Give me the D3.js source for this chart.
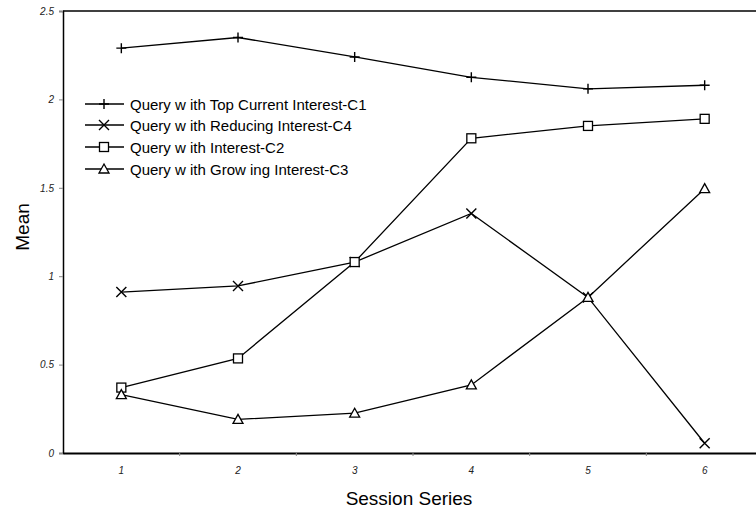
<!DOCTYPE html>
<html><head><meta charset="utf-8">
<script src="https://cdn.jsdelivr.net/npm/d3@7"></script>
<style>body{margin:0;background:#fff}svg{display:block}</style>
</head><body>
<svg id="c" width="756" height="509"></svg>
<script>
const categories = ["1","2","3","4","5","6"];
const yTicks = [0, 0.5, 1, 1.5, 2, 2.5];
const seriesNames = [
  "Query w ith Top Current Interest-C1",
  "Query w ith Reducing Interest-C4",
  "Query w ith Interest-C2",
  "Query w ith Grow ing Interest-C3"
];
const seriesMarkers = ["plus","cross","square","triangle"];
const c1 = [2.29, 2.35, 2.24, 2.125, 2.06, 2.08];
const c4 = [0.91, 0.945, 1.08, 1.355, 0.88, 0.055];
const c2 = [0.37, 0.535, 1.08, 1.78, 1.85, 1.89];
const c3 = [0.33, 0.19, 0.225, 0.385, 0.88, 1.495];
const seriesValues = [c1, c4, c2, c3];

const svg = d3.select("#c");
const L = 63, R = 763, T = 11, B = 453;
const x = d3.scaleBand().domain(categories).range([L, R]);
const y = d3.scaleLinear().domain([0, 2.5]).range([B, T]);
const font = "'Liberation Sans', Arial, sans-serif";

// top border
svg.append("line").attr("x1", L).attr("x2", 756).attr("y1", T).attr("y2", T)
  .attr("stroke", "#000").attr("stroke-width", 1.5);

// y axis
const ya = svg.append("g").attr("transform", `translate(${L},0)`)
  .call(d3.axisLeft(y).tickValues(yTicks).tickSize(4).tickFormat(d3.format("")));
ya.select(".domain").attr("stroke", "#000").attr("stroke-width", 1.5);
ya.selectAll(".tick line").attr("stroke", "#888");
ya.selectAll(".tick text").attr("font-family", font).attr("font-size", 10)
  .attr("font-style", "italic").attr("fill", "#222").attr("x", -9);

// x axis
const xa = svg.append("g").attr("transform", `translate(0,${B})`)
  .call(d3.axisBottom(x).tickSize(0));
xa.select(".domain").attr("stroke", "#000").attr("stroke-width", 2.2);
xa.selectAll(".tick text").attr("font-family", font).attr("font-size", 10)
  .attr("font-style", "italic").attr("fill", "#222").attr("dy", "0").attr("y", 21);
// boundary ticks between categories
svg.append("g").selectAll("line").data(categories.slice(1)).join("line")
  .attr("x1", d => x(d)).attr("x2", d => x(d)).attr("y1", B).attr("y2", B + 3)
  .attr("stroke", "#888");

// axis titles
svg.append("text").attr("transform", "translate(29,227) rotate(-90)")
  .attr("text-anchor", "middle").attr("font-family", font).attr("font-size", 19).text("Mean");
svg.append("text").attr("x", 409).attr("y", 505).attr("text-anchor", "middle")
  .attr("font-family", font).attr("font-size", 19).text("Session Series");

function marker(g, type, cx, cy) {
  const s = 5;
  if (type === "plus") {
    g.append("path").attr("d", `M${cx-s},${cy}H${cx+s}M${cx},${cy-s}V${cy+s}`)
      .attr("stroke", "#000").attr("stroke-width", 1.4).attr("fill", "none");
  } else if (type === "cross") {
    g.append("path").attr("d", `M${cx-s},${cy-s}L${cx+s},${cy+s}M${cx-s},${cy+s}L${cx+s},${cy-s}`)
      .attr("stroke", "#000").attr("stroke-width", 1.4).attr("fill", "none");
  } else if (type === "square") {
    g.append("rect").attr("x", cx-4.5).attr("y", cy-4.5).attr("width", 9).attr("height", 9)
      .attr("stroke", "#000").attr("stroke-width", 1.3).attr("fill", "#fff");
  } else {
    g.append("path").attr("d", `M${cx},${cy-5}L${cx+5},${cy+4}L${cx-5},${cy+4}Z`)
      .attr("stroke", "#000").attr("stroke-width", 1.3).attr("fill", "#fff");
  }
}

const line = d3.line().x((d, i) => x(categories[i]) + x.bandwidth() / 2).y(d => y(d));
seriesValues.forEach((vals, si) => {
  const g = svg.append("g");
  g.append("path").datum(vals).attr("d", line).attr("fill", "none")
    .attr("stroke", "#000").attr("stroke-width", 1.3);
  vals.forEach((v, i) => marker(g, seriesMarkers[si], x(categories[i]) + x.bandwidth() / 2, y(v)));
});

// legend
const legY = [104, 125, 147, 169];
seriesNames.forEach((n, i) => {
  const g = svg.append("g");
  g.append("line").attr("x1", 85).attr("x2", 124).attr("y1", legY[i]).attr("y2", legY[i])
    .attr("stroke", "#000").attr("stroke-width", 1.3);
  marker(g, seriesMarkers[i], 104, legY[i]);
  g.append("text").attr("x", 130).attr("y", legY[i] + 5.5).attr("font-family", font)
    .attr("font-size", 15).text(n);
});
</script>
</body></html>
